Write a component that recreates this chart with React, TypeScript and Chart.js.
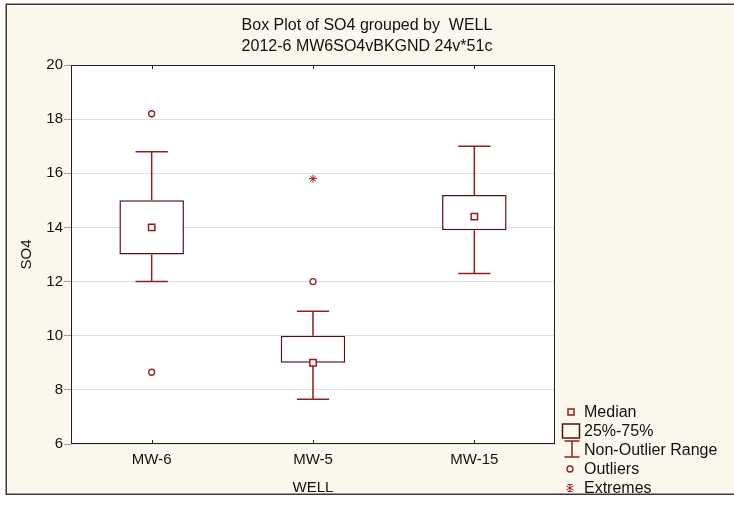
import React, { useEffect, useRef } from 'react';
import { Chart, registerables } from 'chart.js';

Chart.register(...registerables);

// ---- data ----
const categories = ['MW-6', 'MW-5', 'MW-15'];
const q1 = [13, 9, 13.9];
const q3 = [15, 10, 15.2];
const medians = [14, 9, 14.4];
const whiskerLow = [12, 7.65, 12.3];
const whiskerHigh = [16.8, 10.9, 17.0];
const outlierCats = ['MW-6', 'MW-6', 'MW-5'];
const outlierVals = [18.2, 8.65, 12];
const extremeCats = ['MW-5'];
const extremeVals = [15.8];
const yMin = 6;
const yMax = 20;
const yStep = 2;
const legendLabels = ['Median', '25%-75%', 'Non-Outlier Range', 'Outliers', 'Extremes'];
const titleText = 'Box Plot of SO4 grouped by  WELL';
const subtitleText = '2012-6 MW6SO4vBKGND 24v*51c';
const xTitle = 'WELL';
const yTitle = 'SO4';

// ---- styles ----
const RED = '#931e1e';
const DARK = '#521313';
const FONT = "'Liberation Sans', Arial, sans-serif";
const TEXT = '#111111';

const boxPlugin = {
  id: 'boxExtras',
  beforeDraw(chart: any) {
    const { ctx, width, height, chartArea } = chart;
    ctx.save();
    ctx.fillStyle = '#ffffff';
    ctx.fillRect(0, 0, width, height);
    ctx.fillStyle = '#fdf8ee';
    ctx.fillRect(6, 4, width + 10, 490);
    ctx.strokeStyle = '#3a3a3a';
    ctx.lineWidth = 1.5;
    ctx.strokeRect(6.25, 4.25, width + 10, 490);
    ctx.fillStyle = '#ffffff';
    ctx.fillRect(chartArea.left, chartArea.top, chartArea.width, chartArea.height);
    ctx.restore();
  },
  beforeDatasetsDraw(chart: any) {
    const x = chart.scales.x;
    const y = chart.scales.y;
    const ctx = chart.ctx;
    const step = x.getPixelForValue(1) - x.getPixelForValue(0);
    const half = step * 0.1;
    ctx.save();
    ctx.strokeStyle = RED;
    ctx.lineWidth = 1.5;
    categories.forEach((c, i) => {
      const px = x.getPixelForValue(i);
      const yl = y.getPixelForValue(whiskerLow[i]);
      const yh = y.getPixelForValue(whiskerHigh[i]);
      const y1 = y.getPixelForValue(q1[i]);
      const y3 = y.getPixelForValue(q3[i]);
      ctx.beginPath();
      ctx.moveTo(px, y3);
      ctx.lineTo(px, yh);
      ctx.moveTo(px - half, yh);
      ctx.lineTo(px + half, yh);
      ctx.moveTo(px, y1);
      ctx.lineTo(px, yl);
      ctx.moveTo(px - half, yl);
      ctx.lineTo(px + half, yl);
      ctx.stroke();
    });
    ctx.restore();
  },
  afterDraw(chart: any) {
    const { ctx, chartArea } = chart;
    const x = chart.scales.x;
    ctx.save();
    // plot border
    ctx.strokeStyle = '#222222';
    ctx.lineWidth = 1;
    ctx.strokeRect(chartArea.left + 0.5, chartArea.top + 0.5, chartArea.width - 1, chartArea.height - 1);
    // inward category ticks
    ctx.beginPath();
    categories.forEach((c, i) => {
      const px = Math.round(x.getPixelForValue(i)) + 0.5;
      ctx.moveTo(px, chartArea.top);
      ctx.lineTo(px, chartArea.top + 4);
      ctx.moveTo(px, chartArea.bottom);
      ctx.lineTo(px, chartArea.bottom - 4);
    });
    ctx.stroke();

    // legend
    const cx = chartArea.right + 16;
    const tx = chartArea.right + 29;
    const y0 = chartArea.bottom - 32;
    const dy = 19;
    ctx.font = `16px ${FONT}`;
    ctx.textBaseline = 'middle';
    ctx.textAlign = 'left';
    legendLabels.forEach((lab, i) => {
      const cy = y0 + i * dy;
      ctx.fillStyle = TEXT;
      ctx.fillText(lab, tx, cy + 1);
      ctx.lineWidth = 1.5;
      if (i === 0) {
        ctx.strokeStyle = RED;
        ctx.strokeRect(cx - 3, cy - 3, 6, 6);
      } else if (i === 1) {
        ctx.strokeStyle = DARK;
        ctx.strokeRect(cx - 8.5, cy - 7, 17, 14);
      } else if (i === 2) {
        ctx.strokeStyle = RED;
        ctx.beginPath();
        ctx.moveTo(cx + 1, cy - 9);
        ctx.lineTo(cx + 1, cy + 7);
        ctx.moveTo(cx - 6.5, cy - 9);
        ctx.lineTo(cx + 8.5, cy - 9);
        ctx.moveTo(cx - 6.5, cy + 7);
        ctx.lineTo(cx + 8.5, cy + 7);
        ctx.stroke();
      } else if (i === 3) {
        ctx.strokeStyle = RED;
        ctx.lineWidth = 1.3;
        ctx.beginPath();
        ctx.arc(cx - 1, cy, 3, 0, Math.PI * 2);
        ctx.stroke();
      } else {
        ctx.strokeStyle = RED;
        ctx.lineWidth = 1;
        const r = 3.5;
        const sx = cx - 1;
        ctx.beginPath();
        ctx.moveTo(sx, cy - r);
        ctx.lineTo(sx, cy + r);
        ctx.moveTo(sx - r, cy - r * 0.6);
        ctx.lineTo(sx + r, cy + r * 0.6);
        ctx.moveTo(sx + r, cy - r * 0.6);
        ctx.lineTo(sx - r, cy + r * 0.6);
        ctx.moveTo(sx - r * 0.7, cy - r);
        ctx.lineTo(sx + r * 0.7, cy - r);
        ctx.moveTo(sx - r * 0.7, cy + r);
        ctx.lineTo(sx + r * 0.7, cy + r);
        ctx.stroke();
      }
    });
    ctx.restore();
  },
};

export default function App() {
  const ref = useRef<HTMLCanvasElement>(null);

  useEffect(() => {
    if (!ref.current) return;
    const tickFont = { family: FONT, size: 15, weight: 'normal' as const };
    const titleFont = { family: FONT, size: 16, weight: 'normal' as const };
    const chart = new Chart(ref.current, {
      type: 'bar',
      data: {
        labels: categories,
        datasets: [
          {
            type: 'bar',
            label: '25%-75%',
            data: categories.map((c, i) => [q1[i], q3[i]]) as any,
            backgroundColor: '#ffffff',
            borderColor: DARK,
            borderWidth: 1.5,
            borderSkipped: false,
            barPercentage: 0.4,
            categoryPercentage: 1,
            order: 10,
          },
          {
            type: 'line',
            label: 'Median',
            data: medians as any,
            showLine: false,
            pointStyle: 'rect',
            pointRadius: 4.5,
            pointBorderWidth: 1.5,
            pointBorderColor: RED,
            pointBackgroundColor: '#ffffff',
            order: 1,
          },
          {
            type: 'line',
            label: 'Outliers',
            data: outlierCats.map((c, i) => ({ x: c, y: outlierVals[i] })) as any,
            showLine: false,
            pointStyle: 'circle',
            pointRadius: 3,
            pointBorderWidth: 1.3,
            pointBorderColor: RED,
            pointBackgroundColor: '#ffffff',
            order: 1,
          },
          {
            type: 'line',
            label: 'Extremes',
            data: extremeCats.map((c, i) => ({ x: c, y: extremeVals[i] })) as any,
            showLine: false,
            pointStyle: 'star',
            pointRadius: 4,
            pointBorderWidth: 1,
            pointBorderColor: RED,
            pointBackgroundColor: RED,
            order: 1,
          },
        ],
      },
      options: {
        responsive: false,
        animation: false,
        devicePixelRatio: 1,
        events: [],
        layout: { padding: 0 },
        plugins: {
          legend: { display: false },
          tooltip: { enabled: false },
          title: {
            display: true,
            text: titleText,
            font: titleFont,
            color: TEXT,
            padding: { top: 15.7, bottom: 2 },
          },
          subtitle: {
            display: true,
            text: subtitleText,
            font: titleFont,
            color: TEXT,
            padding: { top: 0.2, bottom: 8.7 },
          },
        },
        scales: {
          x: {
            type: 'category',
            offset: true,
            grid: { display: false, drawTicks: false, tickLength: 0 },
            border: { display: false },
            ticks: { font: tickFont, color: TEXT, padding: 7.3 },
            title: { display: true, text: xTitle, font: tickFont, color: TEXT, padding: { top: 0, bottom: 8.7 } },
            afterFit: (s: any) => {
              s.height = 62;
            },
          },
          y: {
            type: 'linear',
            position: 'left',
            min: yMin,
            max: yMax,
            ticks: { stepSize: yStep, font: tickFont, color: TEXT, padding: 1 },
            grid: { color: '#e0e0e0', tickColor: '#a0a0a0', tickLength: 7, lineWidth: 1 },
            border: { display: false },
            title: { display: true, text: yTitle, font: tickFont, color: TEXT, padding: { top: 17.7, bottom: 0 } },
            afterFit: (s: any) => {
              s.width = 71;
            },
          },
          yRight: {
            type: 'linear',
            position: 'right',
            display: true,
            grid: { display: false, drawTicks: false },
            border: { display: false },
            ticks: { display: false },
            title: { display: false },
            afterFit: (s: any) => {
              s.width = 179;
            },
          },
        },
      } as any,
      plugins: [boxPlugin],
    });
    return () => chart.destroy();
  }, []);

  return (
    <canvas
      ref={ref}
      width={734}
      height={506}
      style={{ position: 'fixed', left: 0, top: 0, width: 734, height: 506, display: 'block' }}
    />
  );
}
